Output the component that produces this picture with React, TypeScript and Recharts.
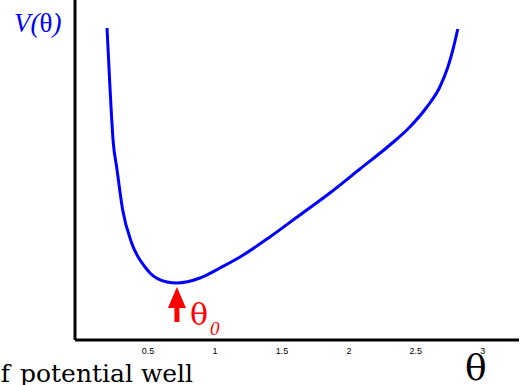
import { LineChart, Line, XAxis, YAxis, ReferenceDot } from 'recharts';

// theta along the well
const theta = [0.194, 0.216, 0.241, 0.266, 0.311, 0.378, 0.478, 0.515, 0.642, 0.716, 0.888, 1.037, 1.187, 1.41, 1.634, 1.858, 2.082, 2.306, 2.455, 2.582, 2.679, 2.739, 2.776, 2.813];
// potential V(theta), arbitrary units
const potential = [3.12, 2.53, 1.97, 1.73, 1.3, 0.97, 0.73, 0.67, 0.58, 0.57, 0.62, 0.72, 0.83, 1.03, 1.25, 1.47, 1.71, 1.95, 2.13, 2.33, 2.53, 2.73, 2.9, 3.11];
const xTicks = [0.5, 1, 1.5, 2, 2.5, 3];
const theta0 = 0.716;
const vMin = 0.57;

const data = theta.map((t, i) => ({ theta: t, v: potential[i] }));

const ArrowShape = (props: any) => {
  const { cx, cy } = props;
  if (cx == null || cy == null) return null;
  const tip = cy + 4;
  return (
    <g>
      <polygon points={`${cx},${tip} ${cx - 9},${tip + 21} ${cx + 9},${tip + 21}`} fill="#ff0000" />
      <rect x={cx - 2.5} y={tip + 18} width={5} height={17} fill="#ff0000" />
      <text x={cx + 13} y={tip + 38} fill="#ff0000" fontFamily="'DejaVu Serif', serif" fontSize={30}>θ</text>
      <text x={cx + 33} y={tip + 48} fill="#ff0000" fontFamily="'Liberation Serif', serif" fontStyle="italic" fontSize={19}>0</text>
    </g>
  );
};

export default function App() {
  return (
    <div style={{ position: 'absolute', left: 0, top: 0, width: 531, height: 385, background: '#fff', overflow: 'hidden' }}>
      <LineChart width={531} height={385} data={data} margin={{ top: 0, right: 12, bottom: 0, left: 74 }}>
        <XAxis
          type="number"
          dataKey="theta"
          domain={[-0.045, 3.27]}
          ticks={xTicks}
          allowDataOverflow
          height={45}
          tickLine={false}
          axisLine={{ stroke: '#000', strokeWidth: 3 }}
          tick={{ fontSize: 9, fill: '#000', fontFamily: "'Liberation Sans', Arial, sans-serif" }}
        />
        <YAxis
          type="number"
          domain={[0, 3.4]}
          width={1}
          tick={false}
          tickLine={false}
          axisLine={{ stroke: '#000', strokeWidth: 3 }}
        />
        <Line
          type="monotone"
          dataKey="v"
          stroke="#0000ff"
          strokeWidth={3}
          dot={false}
          isAnimationActive={false}
        />
        <ReferenceDot x={theta0} y={vMin} shape={ArrowShape} />
      </LineChart>
      <svg width={531} height={385} style={{ position: 'absolute', left: 0, top: 0, pointerEvents: 'none' }}>
        <text x={14} y={32} fill="#0000ff" fontFamily="'Liberation Serif', serif" fontSize={27}>
          <tspan fontStyle="italic">V(</tspan>
          <tspan>θ</tspan>
          <tspan fontStyle="italic">)</tspan>
        </text>
        <text x={465} y={380} fill="#000" fontFamily="'DejaVu Serif', serif" fontSize={36}>θ</text>
        <text x={10} y={382} textAnchor="end" fill="#000" fontFamily="'DejaVu Serif', serif" fontSize={25}>of</text>
        <text x={20} y={382} fill="#000" fontFamily="'DejaVu Serif', serif" fontSize={25}>potential well</text>
      </svg>
    </div>
  );
}
